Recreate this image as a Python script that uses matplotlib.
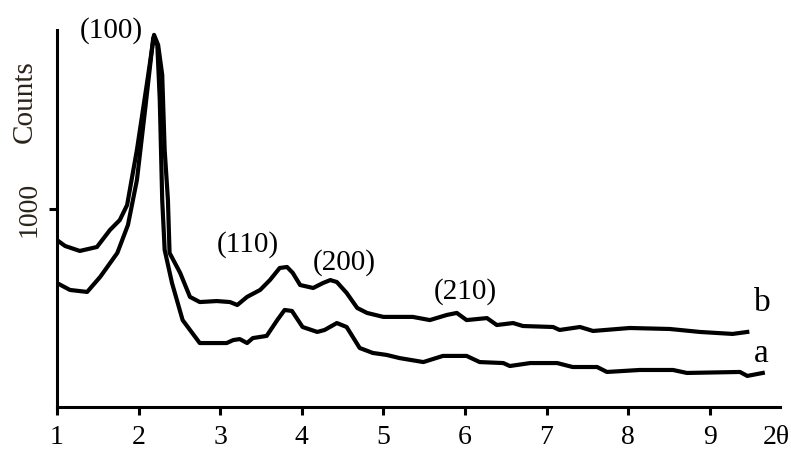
import matplotlib
matplotlib.use("Agg")
import matplotlib.pyplot as plt
import numpy as np

plt.rcParams['font.family'] = ['Liberation Serif', 'DejaVu Serif']

# curve a (lower trace)
two_theta_a = [1.00, 1.16, 1.37, 1.53, 1.74, 1.87, 1.98, 2.08, 2.18, 2.23, 2.26, 2.29, 2.32,
               2.41, 2.54, 2.75, 3.08, 3.16, 3.24, 3.33, 3.40, 3.57, 3.70, 3.79, 3.88, 4.01,
               4.19, 4.28, 4.43, 4.55, 4.71, 4.87, 5.04, 5.20, 5.49, 5.73, 6.02, 6.18, 6.47,
               6.55, 6.80, 7.13, 7.32, 7.62, 7.74, 8.14, 8.55, 8.72, 9.37, 9.46, 9.65]
counts_a = [626, 591, 581, 657, 778, 919, 1146, 1500, 1864, 1828, 1551, 1045, 793,
            626, 439, 323, 323, 338, 343, 323, 348, 359, 439, 490, 485, 404,
            379, 389, 424, 404, 298, 273, 263, 247, 227, 258, 258, 227, 222,
            207, 222, 222, 202, 202, 177, 187, 187, 172, 177, 157, 172]

# curve b (upper trace)
two_theta_b = [1.00, 1.10, 1.28, 1.49, 1.65, 1.77, 1.86, 1.98, 2.10, 2.19, 2.24, 2.29, 2.32,
               2.36, 2.38, 2.51, 2.63, 2.75, 2.96, 3.12, 3.21, 3.33, 3.49, 3.61, 3.73, 3.82,
               3.89, 3.98, 4.14, 4.26, 4.35, 4.43, 4.55, 4.68, 4.80, 5.00, 5.20, 5.36, 5.57,
               5.78, 5.90, 6.02, 6.27, 6.39, 6.59, 6.71, 7.08, 7.16, 7.41, 7.57, 8.02, 8.51,
               8.88, 9.28, 9.46]
counts_b = [843, 813, 788, 808, 894, 944, 1020, 1298, 1626, 1879, 1828, 1677, 1298,
            1045, 778, 677, 556, 530, 535, 530, 515, 556, 591, 641, 702, 707,
            677, 616, 601, 626, 641, 631, 576, 500, 475, 455, 455, 455, 439,
            465, 475, 439, 449, 414, 424, 409, 404, 389, 404, 384, 399, 394,
            379, 369, 379]

peak_labels = ['(100)', '(110)', '(200)', '(210)']
peak_x = [1.67, 3.34, 4.52, 6.00]
peak_y = [1900, 818, 727, 581]

fig = plt.figure(figsize=(7.91, 4.53), dpi=100)
ax = fig.add_axes([0.072, 0.1015, 0.914, 0.8325])

ax.plot(two_theta_a, counts_a, color='black', lw=3.0, solid_joinstyle='round')
ax.plot(two_theta_b, counts_b, color='black', lw=3.0, solid_joinstyle='round')

ax.set_xlim(1, 9.86)
ax.set_ylim(0, 1904)
ax.set_xticks(range(1, 10))
ax.set_yticks([1000])
ax.set_yticklabels(['1000'], rotation=90, va='center', color='#2a2418')

for s in ['top', 'right']:
    ax.spines[s].set_visible(False)
for s in ['left', 'bottom']:
    ax.spines[s].set_linewidth(2.2)
ax.tick_params(axis='both', direction='out', length=6, width=2.2, labelsize=20)
ax.tick_params(axis='x', pad=7)
ax.tick_params(axis='y', pad=5)

for lab, x, y in zip(peak_labels, peak_x, peak_y):
    ax.text(x, y, lab, ha='center', va='center', fontsize=21, clip_on=False)

ax.text(9.64, 525, 'b', ha='center', va='center', fontsize=24)
ax.text(9.63, 270, 'a', ha='center', va='center', fontsize=24)

fig.text(776 / 791, 1 - 438 / 453, '2θ', ha='center', va='center', fontsize=20)
fig.text(25 / 791, 1 - 102 / 453, 'Counts', ha='center', va='center', rotation=90,
         fontsize=21, color='#2a2418')

fig.savefig('out.png', dpi=100)
